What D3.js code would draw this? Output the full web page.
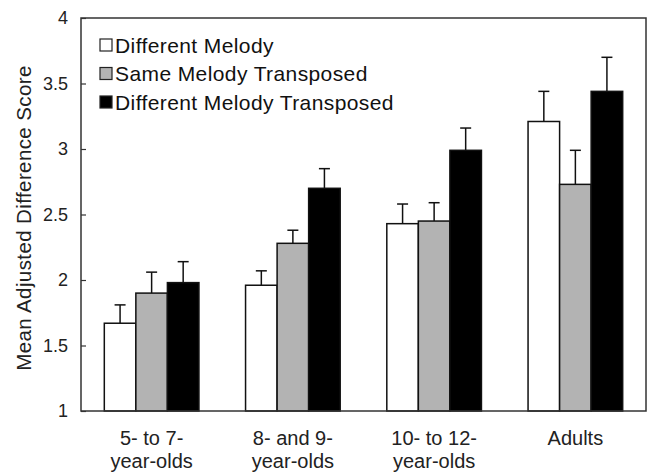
<!DOCTYPE html>
<html>
<head>
<meta charset="utf-8">
<script src="https://cdn.jsdelivr.net/npm/d3@7"></script>
<style>
  body { margin: 0; background: #fff; }
  svg { display: block; font-family: "Liberation Sans", Arial, sans-serif; }
</style>
</head>
<body>
<div id="chart"></div>
<script>
// Data
const groups = [["5- to 7-", "year-olds"], ["8- and 9-", "year-olds"], ["10- to 12-", "year-olds"], ["Adults"]];
const groupKeys = ["g1", "g2", "g3", "g4"];
const seriesNames = ["Different Melody", "Same Melody Transposed", "Different Melody Transposed"];
const seriesColors = ["#ffffff", "#b3b3b3", "#000000"];
const differentMelody = [1.67, 1.96, 2.43, 3.21];
const sameMelodyTransposed = [1.90, 2.28, 2.45, 2.73];
const differentMelodyTransposed = [1.98, 2.70, 2.99, 3.44];
const errDifferentMelody = [0.14, 0.11, 0.15, 0.23];
const errSameMelodyTransposed = [0.16, 0.10, 0.14, 0.26];
const errDifferentMelodyTransposed = [0.16, 0.15, 0.17, 0.26];
const yTicks = [1, 1.5, 2, 2.5, 3, 3.5, 4];

const values = [differentMelody, sameMelodyTransposed, differentMelodyTransposed];
const errors = [errDifferentMelody, errSameMelodyTransposed, errDifferentMelodyTransposed];

const W = 649, H = 473;
const margin = { top: 18, right: 3, bottom: 62, left: 81 };
const width = W - margin.left - margin.right;
const height = H - margin.top - margin.bottom;

const svg = d3.select("#chart").append("svg")
  .attr("width", W).attr("height", H);

const g = svg.append("g").attr("transform", `translate(${margin.left},${margin.top})`);

const x0 = d3.scaleBand().domain(groupKeys).range([0, width])
  .paddingInner(0.33).paddingOuter(0.165);
const x1 = d3.scaleBand().domain(d3.range(seriesNames.length)).range([0, x0.bandwidth()]);
const y = d3.scaleLinear().domain([1, 4]).range([height, 0]);

// Bars + error bars (upper half only)
groupKeys.forEach((k, gi) => {
  values.forEach((vals, si) => {
    const bx = x0(k) + x1(si);
    const v = vals[gi];
    const e = errors[si][gi];
    const cx = bx + x1.bandwidth() / 2;
    g.append("line")
      .attr("x1", cx).attr("x2", cx)
      .attr("y1", y(v)).attr("y2", y(v + e))
      .attr("stroke", "#111").attr("stroke-width", 1.5);
    g.append("line")
      .attr("x1", cx - 5.5).attr("x2", cx + 5.5)
      .attr("y1", y(v + e)).attr("y2", y(v + e))
      .attr("stroke", "#111").attr("stroke-width", 1.5);
    g.append("rect")
      .attr("x", bx).attr("y", y(v))
      .attr("width", x1.bandwidth()).attr("height", y(1) - y(v))
      .attr("fill", seriesColors[si])
      .attr("stroke", "#111").attr("stroke-width", 1.5);
  });
});

// Frame
g.append("rect")
  .attr("x", 0).attr("y", 0).attr("width", width).attr("height", height)
  .attr("fill", "none").attr("stroke", "#333").attr("stroke-width", 1.5);

// Y axis, ticks pointing inward
g.append("g")
  .call(d3.axisLeft(y).tickValues(yTicks).tickSize(-5).tickPadding(13).tickFormat(d3.format("")))
  .call((a) => a.select(".domain").remove())
  .call((a) => a.selectAll(".tick line").attr("stroke", "#333").attr("stroke-width", 1.2))
  .selectAll("text")
  .attr("fill", "#222")
  .style("font-size", "18px");

// X axis labels (two lines)
const xAxis = g.append("g").attr("transform", `translate(0,${height})`)
  .call(d3.axisBottom(x0).tickSize(0).tickFormat(""))
  .call((a) => a.select(".domain").remove());
xAxis.selectAll(".tick").each(function (d, i) {
  const t = d3.select(this).append("text")
    .attr("fill", "#222")
    .attr("text-anchor", "middle")
    .style("font-size", "20px");
  groups[i].forEach((line, li) => {
    t.append("tspan").attr("x", 0).attr("y", 34 + li * 23).text(line);
  });
});

// Y axis title
svg.append("text")
  .attr("transform", "translate(24,218) rotate(-90)")
  .attr("text-anchor", "middle")
  .attr("dy", "0.35em")
  .attr("fill", "#222")
  .style("font-size", "20.5px")
  .style("letter-spacing", "0.4px")
  .text("Mean Adjusted Difference Score");

// Legend
const legend = svg.append("g").attr("transform", "translate(100,45)");
seriesNames.forEach((name, i) => {
  const row = legend.append("g").attr("transform", `translate(0,${i * 28.5})`);
  row.append("rect")
    .attr("x", 0).attr("y", -6).attr("width", 12).attr("height", 12)
    .attr("fill", seriesColors[i]).attr("stroke", "#222").attr("stroke-width", 1.2);
  row.append("text")
    .attr("x", 15).attr("y", 0).attr("dy", "0.36em")
    .attr("fill", "#111")
    .style("font-size", "21px")
    .style("letter-spacing", "0.4px")
    .text(name);
});
</script>
</body>
</html>
